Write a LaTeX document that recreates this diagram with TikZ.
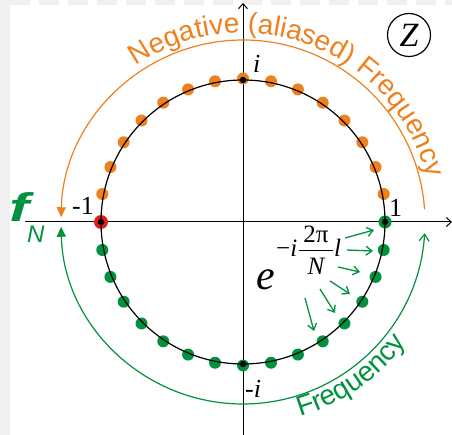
\documentclass[tikz,border=0pt]{standalone}
\usepackage{fontspec}
\setmainfont{Liberation Serif}
\newfontfamily\sansf{Liberation Sans}
\usetikzlibrary{arrows.meta,calc,decorations.text}
\definecolor{orng}{RGB}{238,128,30}
\definecolor{grn}{RGB}{0,146,63}
\definecolor{rd}{RGB}{226,30,36}
\begin{document}
\begin{tikzpicture}[x=1pt,y=1pt,
  odot/.style={circle,fill=orng,inner sep=0,minimum size=12pt},
  gdot/.style={circle,fill=grn,inner sep=0,minimum size=12pt},
  bdot/.style={circle,fill=black,inner sep=0,minimum size=6.5pt},
  lbl/.style={font=\fontsize{26}{26}\selectfont,inner sep=0},
  expo/.style={font=\fontsize{25}{25}\selectfont,inner sep=0},
  garrow/.style={grn,line width=1.3pt,-{Straight Barb[length=6pt,width=9pt]}},
  axisline/.style={line width=1pt,-{Straight Barb[length=5pt,width=9pt]}},
  bigarc/.style={line width=1.2pt}]
\useasboundingbox (0,0) rectangle (452,-435);
\fill[gray!12] (0,0) rectangle (10,-435);
\draw[gray!12,line width=5pt,dash pattern=on 20pt off 9pt] (10,-2.5) -- (452,-2.5);
\coordinate (C) at (243,-222);
% axes
\coordinate (xl) at (25,-222); \coordinate (xr) at (452,-222);
\coordinate (yb) at (243,-435); \coordinate (yt) at (243,-3);
\draw[axisline] (xl) -- (xr);
\draw[axisline] (yb) -- (yt);
% dots
\foreach \k in {1,...,15} \node[odot] (o\k) at ($(C)+(\k*11.25:143.5)$) {};
\foreach \k in {17,...,31} \node[gdot] (g\k) at ($(C)+(\k*11.25:143.5)$) {};
\node[gdot,minimum size=13pt] (g0) at ($(C)+(0:142)$) {};
\node[circle,fill=rd,inner sep=0,minimum size=14pt] (r16) at ($(C)+(180:142)$) {};
% unit circle
\draw[line width=1.2pt] (C) circle[radius=142];
\foreach \a/\n in {0/one,90/pi,180/mone,270/mi} \node[bdot] (\n) at ($(C)+(\a:142)$) {};
% labels
\node[lbl,anchor=base west] (li) at (253,-73) {\itshape i};
\node[lbl,anchor=base east] (lm1) at (94,-215) {-1};
\node[lbl,anchor=base west] (l1) at (389,-217) {1};
\node[lbl,anchor=base west] (lmi) at (245,-397) {-\textit{i}};
% frequency arcs
\draw[bigarc,orng,-{Triangle[length=10pt,width=9pt]}] ($(C)+(4:182)$) arc[start angle=4,end angle=178.5,radius=182];
\draw[bigarc,grn,{Triangle[length=10pt,width=9pt]}-{Straight Barb[length=7pt,width=10pt]}] ($(C)+(181.5:182)$) arc[start angle=181.5,end angle=356.5,radius=182];
\path[decorate,decoration={text along path,text align=center,text color=orng,text={|\sansf\fontsize{28}{28}\selectfont|Negative (aliased) Frequency}}] ($(C)+(126:189)$) arc[start angle=126,end angle=12,radius=189];
\path[decorate,decoration={text along path,text align=center,text color=grn,text={|\sansf\fontsize{28}{28}\selectfont|Frequency}}] ($(C)+(-82:203)$) arc[start angle=-82,end angle=-28,radius=203];
% formula
\node[font=\fontsize{42}{42}\selectfont\itshape,anchor=base west,inner sep=0] (fe) at (256,-290) {e};
\node[expo,anchor=base west] (fmi) at (276,-257) {−\textit{i}};
\node[expo,anchor=base] (f2pi) at (316,-243) {2π};
\node[expo,anchor=base,font=\fontsize{25}{25}\selectfont\itshape] (fN) at (316,-275) {N};
\coordinate (barl) at (299,-251); \coordinate (barr) at (333,-251);
\draw[line width=1pt] (barl) -- (barr);
\node[expo,anchor=base west,font=\fontsize{25}{25}\selectfont\itshape] (fl) at (334,-257) {l};
% green arrows
\coordinate (s1) at (345,-238); \coordinate (e1) at (374,-230);
\coordinate (s2) at (347,-250); \coordinate (e2) at (373,-251);
\coordinate (s3) at (338,-267); \coordinate (e3) at (360,-272);
\coordinate (s4) at (330,-281); \coordinate (e4) at (350,-294);
\coordinate (s5) at (320,-289); \coordinate (e5) at (335,-313);
\coordinate (s6) at (305,-298); \coordinate (e6) at (314,-331);
\foreach \i in {1,...,6} \draw[garrow] (s\i) -- (e\i);
% z symbol
\node[circle,draw,line width=1.2pt,minimum size=43pt,inner sep=0,font=\fontsize{34}{34}\selectfont\itshape] (zz) at (409,-35) {Z};
% f_N
\node[grn,font=\sansf\bfseries\itshape\fontsize{40}{40}\selectfont,anchor=base west,inner sep=0] (fNf) at (9,-222) {\scalebox{1.5}[1]{f}};
\node[grn,font=\sansf\itshape\fontsize{24}{24}\selectfont,anchor=base west,inner sep=0] (fNN) at (27,-243) {N};
\end{tikzpicture}
\end{document}
